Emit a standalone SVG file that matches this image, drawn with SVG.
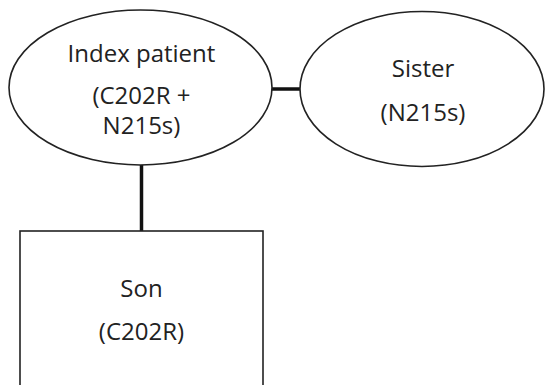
<svg xmlns="http://www.w3.org/2000/svg" width="546" height="385" viewBox="0 0 546 385">
<style>
.shape{fill:#fff;stroke:#222;stroke-width:1.6}
.link{stroke:#111;stroke-width:3.5;fill:none}
text{font-family:"Open Sans","Noto Sans",sans-serif;font-size:24px;fill:#222;text-anchor:middle}
</style>
<rect width="546" height="385" fill="#fff"/>
<g id="connectors">
<line class="link" x1="271" y1="89" x2="301" y2="89"/>
<line class="link" x1="141.5" y1="164" x2="141.5" y2="232"/>
</g>
<g id="index-patient">
<ellipse class="shape" cx="140.5" cy="87.5" rx="131.5" ry="77.5"/>
<text x="141.5" y="61.5">Index patient</text>
<text x="141.5" y="103.5">(C202R +</text>
<text x="141.5" y="133.5">N215s)</text>
</g>
<g id="sister">
<ellipse class="shape" cx="422" cy="89" rx="122" ry="77.5"/>
<text x="423" y="77">Sister</text>
<text x="423" y="120.5">(N215s)</text>
</g>
<g id="son">
<rect class="shape" x="20" y="231" width="243" height="170"/>
<text x="141.5" y="297">Son</text>
<text x="141.5" y="340">(C202R)</text>
</g>
</svg>
